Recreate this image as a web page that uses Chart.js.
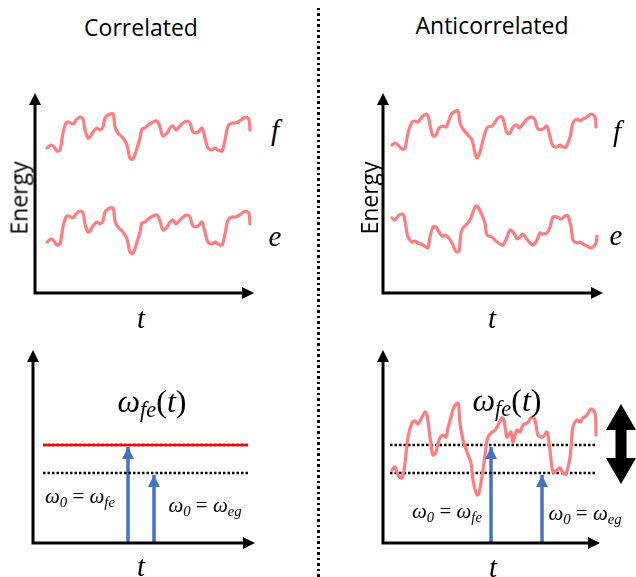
<!DOCTYPE html>
<html>
<head>
<meta charset="utf-8">
<script src="https://cdn.jsdelivr.net/npm/chart.js@4.4.1/dist/chart.umd.min.js"></script>
<style>
  html, body { margin: 0; padding: 0; background: #fff; }
  #wrap { position: relative; width: 636px; height: 577px; overflow: hidden; }
  canvas { position: absolute; }
  .lbl { position: absolute; white-space: nowrap; transform: translate(-50%, -50%); color: #000; line-height: 1; }
  .title { font-family: 'Open Sans', sans-serif; font-size: 23px; }
  .m { font-family: 'Liberation Serif', serif; font-style: italic; }
  .m sub { font-size: 0.7em; vertical-align: -0.25em; }
  .up { font-style: normal; }
  #divider { position: absolute; left: 317px; top: 8px; width: 3px; height: 569px;
    background: repeating-linear-gradient(to bottom, #000 0 2.5px, transparent 2.5px 5.5px); }
</style>
</head>
<body>
<div id="wrap">
  <div id="divider"></div>
  <canvas id="pA"></canvas>
  <canvas id="pB"></canvas>
  <canvas id="pC"></canvas>
  <canvas id="pD"></canvas>

  <div class="lbl title" style="left:141px;top:27px">Correlated</div>
  <div class="lbl title" style="left:492px;top:25px">Anticorrelated</div>
  <div class="lbl title" style="left:19px;top:198px;transform:translate(-50%,-50%) rotate(-90deg)">Energy</div>
  <div class="lbl title" style="left:369px;top:198px;transform:translate(-50%,-50%) rotate(-90deg)">Energy</div>

  <div class="lbl m" style="left:275px;top:130px;font-size:29px">f</div>
  <div class="lbl m" style="left:275px;top:236px;font-size:29px">e</div>
  <div class="lbl m" style="left:617px;top:131px;font-size:29px">f</div>
  <div class="lbl m" style="left:616px;top:235px;font-size:29px">e</div>

  <div class="lbl m" style="left:141px;top:318px;font-size:29px">t</div>
  <div class="lbl m" style="left:492px;top:318px;font-size:29px">t</div>
  <div class="lbl m" style="left:141px;top:566px;font-size:29px">t</div>
  <div class="lbl m" style="left:493px;top:567px;font-size:29px">t</div>

  <div class="lbl m" style="left:152px;top:403px;font-size:32px">ω<sub>fe</sub><span class="up">(</span>t<span class="up">)</span></div>
  <div class="lbl m" style="left:507px;top:402px;font-size:32px">ω<sub>fe</sub><span class="up">(</span>t<span class="up">)</span></div>

  <div class="lbl m" style="left:80px;top:498px;font-size:21px">ω<sub>0</sub> <span class="up">=</span> ω<sub>fe</sub></div>
  <div class="lbl m" style="left:205px;top:507px;font-size:21px">ω<sub>0</sub> <span class="up">=</span> ω<sub>eg</sub></div>
  <div class="lbl m" style="left:447px;top:513px;font-size:21px">ω<sub>0</sub> <span class="up">=</span> ω<sub>fe</sub></div>
  <div class="lbl m" style="left:585px;top:515px;font-size:21px">ω<sub>0</sub> <span class="up">=</span> ω<sub>eg</sub></div>

  <svg style="position:absolute;left:606px;top:404px" width="30" height="80">
    <polygon points="15,0 30,26 20.5,26 20.5,54 30,54 15,80 0,54 9.5,54 9.5,26 0,26" fill="#000"/>
  </svg>
</div>

<script>
// correlated: f and e levels move together
const tCorr = [12,16,19,22,25,28,31,34,38,41,45,48,50,53,55,58,62,65,68,70,73,78,80,83,88,92,95,98,102,105,107,110,113,118,122,125,128,132,135,138,141,144,148,152,155,158,163,167,170,173,177,180,183,187,190,193,197,200,203,207,211,214,215];
const fCorr = [145,148,146,142,143,160,170,171,169,173,176,174,163,155,156,161,165,163,166,175,178,179,166,160,155,148,135,134,145,155,164,165,168,171,172,166,157,160,165,167,163,166,170,172,170,161,161,165,155,145,143,145,143,142,153,167,170,170,171,174,176,173,163];
const eCorr = [51,54,52,48,49,66,76,77,75,79,82,80,69,61,62,67,71,69,72,81,84,85,72,66,61,54,41,40,51,61,70,71,74,77,78,72,63,66,71,73,69,72,76,78,76,67,67,71,61,51,49,51,49,48,59,73,76,76,77,80,82,79,69];

// anticorrelated
const tAntiF = [9,12,15,19,22,25,29,32,35,39,43,45,47,50,53,56,60,63,65,68,71,75,77,80,85,89,92,94,97,100,103,105,109,112,115,119,121,124,127,130,134,136,140,144,149,152,155,160,164,167,170,174,177,180,183,187,190,194,197,200,204,208,212,213];
const fAnti = [148,150,148,144,145,160,171,172,171,176,179,177,168,157,158,165,167,166,170,178,181,182,170,164,158,153,140,135,141,153,163,166,167,171,175,176,171,160,160,166,168,165,169,174,176,173,164,164,167,156,147,146,148,146,146,156,170,174,172,174,176,179,176,166];
const tAntiE = [9,12,15,19,21,23,25,29,32,35,40,43,45,47,50,53,56,59,62,65,69,72,74,76,78,80,83,87,90,93,95,99,102,104,109,112,117,120,124,127,130,132,134,137,140,143,147,150,154,157,160,164,167,170,174,178,182,185,188,190,194,197,200,204,208,210,213,214];
const eAnti = [75,73,77,79,77,66,56,51,52,50,48,46,45,56,66,66,61,57,58,56,50,43,41,42,60,65,68,73,81,87,86,78,70,58,56,53,49,48,56,63,61,58,54,56,59,55,50,48,53,60,59,60,66,76,76,74,77,77,66,53,50,51,49,47,45,46,50,57];

// transition frequency in the anticorrelated case
const tOmega = [9,12,15,19,22,25,29,32,35,39,42,44,47,50,53,56,60,63,65,68,71,75,77,80,84,88,90,94,96,100,103,105,109,112,115,119,121,124,128,130,134,137,140,144,149,152,155,160,164,167,170,174,177,180,183,187,190,194,197,200,204,208,212,213];
const omegaAnti = [73,76,68,65,80,106,120,122,119,126,131,128,106,88,91,103,108,106,115,126,136,140,120,103,91,80,63,48,50,73,96,106,111,113,118,125,123,106,111,101,113,111,118,120,126,123,108,106,111,93,71,73,75,70,69,86,116,123,121,125,128,134,130,108];

// omega_0 levels and laser arrows
const levels = [98, 70];           // omega_fe, omega_eg
const levelSpanC = [10, 215];
const levelSpanD = [7, 212];
const arrowsC = [95, 121];         // t position of arrows
const arrowsD = [108, 159];

const pink = '#ff7c80';
const blue = '#4472c4';
const PAD = 14;

function zip(ts, vs) { return ts.map((t, i) => ({ x: t, y: vs[i] })); }

const axisArrows = {
  id: 'axisArrows',
  afterDatasetsDraw(chart) {
    const { ctx, chartArea: a } = chart;
    ctx.save();
    ctx.strokeStyle = '#000';
    ctx.fillStyle = '#000';
    ctx.lineWidth = 3;
    ctx.lineJoin = 'miter';
    ctx.beginPath();
    ctx.moveTo(a.left, a.top + 8);
    ctx.lineTo(a.left, a.bottom);
    ctx.lineTo(a.right - 8, a.bottom);
    ctx.stroke();
    ctx.beginPath();
    ctx.moveTo(a.left, a.top);
    ctx.lineTo(a.left - 6, a.top + 12);
    ctx.lineTo(a.left + 6, a.top + 12);
    ctx.closePath();
    ctx.fill();
    ctx.beginPath();
    ctx.moveTo(a.right, a.bottom);
    ctx.lineTo(a.right - 12, a.bottom - 6);
    ctx.lineTo(a.right - 12, a.bottom + 6);
    ctx.closePath();
    ctx.fill();
    ctx.restore();
  }
};

const arrowHeads = {
  id: 'arrowHeads',
  afterDatasetsDraw(chart) {
    const ctx = chart.ctx;
    chart.data.datasets.forEach((ds, i) => {
      if (!ds.arrowHead) return;
      const pts = chart.getDatasetMeta(i).data;
      const tip = pts[pts.length - 1];
      ctx.save();
      ctx.fillStyle = ds.borderColor;
      ctx.beginPath();
      ctx.moveTo(tip.x, tip.y);
      ctx.lineTo(tip.x - 6, tip.y + 12);
      ctx.lineTo(tip.x + 6, tip.y + 12);
      ctx.closePath();
      ctx.fill();
      ctx.restore();
    });
  }
};

function wiggle(data) {
  return { data, borderColor: pink, borderWidth: 3.2, tension: 0.35, pointRadius: 0, borderCapStyle: 'round', borderJoinStyle: 'round' };
}
function dotted(span, y) {
  return { data: [{ x: span[0], y }, { x: span[1], y }], borderColor: '#000', borderWidth: 2.5, borderDash: [2.5, 2], pointRadius: 0 };
}
function laser(t, y) {
  return { data: [{ x: t, y: 0 }, { x: t, y: y - 2 }], borderColor: blue, borderWidth: 3.5, pointRadius: 0, arrowHead: true };
}

function panel(id, ox, oy, w, h, datasets) {
  const cv = document.getElementById(id);
  cv.width = w + 2 * PAD;
  cv.height = h + 2 * PAD;
  cv.style.left = (ox - PAD) + 'px';
  cv.style.top = (oy - h - PAD) + 'px';
  return new Chart(cv, {
    type: 'line',
    data: { datasets },
    options: {
      responsive: false,
      animation: false,
      devicePixelRatio: 1,
      layout: { padding: PAD },
      plugins: { legend: { display: false }, tooltip: { enabled: false } },
      scales: {
        x: { type: 'linear', min: 0, max: w, display: false },
        y: { type: 'linear', min: 0, max: h, display: false }
      }
    },
    plugins: [axisArrows, arrowHeads]
  });
}

panel('pA', 35, 293, 219, 200, [wiggle(zip(tCorr, fCorr)), wiggle(zip(tCorr, eCorr))]);
panel('pB', 383, 293, 220, 200, [wiggle(zip(tAntiF, fAnti)), wiggle(zip(tAntiE, eAnti))]);

const redLevel = dotted(levelSpanC, levels[0]);
panel('pC', 33, 543, 222, 193, [
  { data: redLevel.data, borderColor: '#ff0000', borderWidth: 2.5, pointRadius: 0 },
  redLevel,
  dotted(levelSpanC, levels[1]),
  laser(arrowsC[0], levels[0]),
  laser(arrowsC[1], levels[1])
]);

panel('pD', 383, 543, 217, 193, [
  wiggle(zip(tOmega, omegaAnti)),
  dotted(levelSpanD, levels[0]),
  dotted(levelSpanD, levels[1]),
  laser(arrowsD[0], levels[0]),
  laser(arrowsD[1], levels[1])
]);
</script>
</body>
</html>
